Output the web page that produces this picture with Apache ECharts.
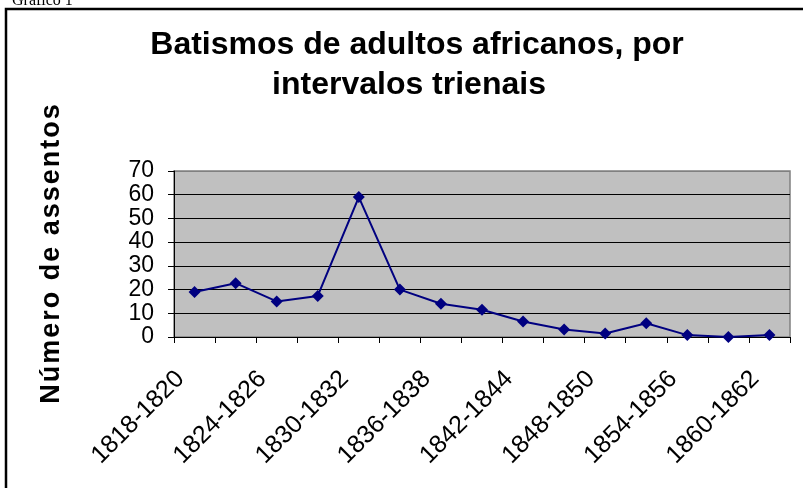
<!DOCTYPE html>
<html>
<head>
<meta charset="utf-8">
<script src="https://cdn.jsdelivr.net/npm/echarts@6/dist/echarts.min.js"></script>
<style>
  html, body { margin: 0; padding: 0; background: #fff; }
  #chart { width: 803px; height: 488px; }
</style>
</head>
<body>
<div id="chart"></div>
<script>
// three-year intervals
const periods = [
  '1818-1820', '1821-1823', '1824-1826', '1827-1829', '1830-1832',
  '1833-1835', '1836-1838', '1839-1841', '1842-1844', '1845-1847',
  '1848-1850', '1851-1853', '1854-1856', '1857-1859', '1860-1862'
];
const baptisms = [19, 22.7, 15, 17.3, 59, 20, 14, 11.5, 6.5, 3.2, 1.5, 5.8, 0.8, 0, 0.8];
const yTicks = [0, 70, 10]; // min, max, step
const yName = 'Número de assentos';

// the original spreads the letters of the axis title a little
const spacedName = Array.from(yName).map(c => '{s|' + c + '}').join('');

const chart = echarts.init(document.getElementById('chart'));

const titleFont = {
  fontFamily: 'Arial, "Liberation Sans"',
  fontSize: 32,
  fontWeight: 'bold',
  color: '#000',
  lineHeight: 40
};

const option = {
  animation: false,
  backgroundColor: '#fff',
  title: {
    text: '{a|Batismos de adultos africanos, por}\n{b|intervalos trienais}',
    left: 412,
    top: 20,
    textAlign: 'center',
    textStyle: Object.assign({}, titleFont, {
      rich: {
        a: Object.assign({}, titleFont),
        // second line sits slightly left of the first in the original
        b: Object.assign({}, titleFont, { padding: [0, 16, 0, 0] })
      }
    })
  },
  graphic: [
    {
      type: 'rect',
      shape: { x: 6, y: 9, width: 830, height: 520 },
      style: { fill: 'none', stroke: '#000', lineWidth: 2.5 },
      z: 100
    },
    {
      type: 'text',
      left: 12,
      top: -7,
      style: {
        text: 'Gráfico 1',
        font: '16px "Liberation Serif", "Times New Roman", serif',
        fill: '#000'
      }
    }
  ],
  grid: {
    left: 174,
    top: 171,
    right: 13,
    bottom: 151,
    show: true,
    backgroundColor: '#c0c0c0',
    borderColor: '#808080',
    borderWidth: 1.5
  },
  xAxis: {
    type: 'category',
    data: periods,
    boundaryGap: true,
    axisLine: { lineStyle: { color: '#000', width: 1 } },
    axisTick: { show: true, interval: 0, length: 6, lineStyle: { color: '#000' } },
    axisLabel: {
      interval: 1,
      rotate: 45,
      margin: 24,
      padding: [0, 20, 0, 0],
      color: '#000',
      fontFamily: 'Arial, "Liberation Sans"',
      fontSize: 25
    }
  },
  yAxis: {
    type: 'value',
    min: yTicks[0],
    max: yTicks[1],
    interval: yTicks[2],
    name: spacedName,
    nameLocation: 'middle',
    nameRotate: 90,
    nameGap: 109,
    nameTextStyle: {
      fontFamily: 'Arial, "Liberation Sans"',
      fontSize: 27,
      fontWeight: 'bold',
      color: '#000',
      rich: {
        s: {
          fontFamily: 'Arial, "Liberation Sans"',
          fontSize: 27,
          fontWeight: 'bold',
          color: '#000',
          padding: [0, 1, 0, 1]
        }
      }
    },
    axisLine: { show: true, lineStyle: { color: '#000', width: 1 } },
    axisTick: { show: true, length: 6, lineStyle: { color: '#000' } },
    axisLabel: {
      margin: 20,
      color: '#000',
      fontFamily: 'Arial, "Liberation Sans"',
      fontSize: 23,
      lineHeight: 23
    },
    splitLine: {
      show: true,
      lineStyle: {
        color: ['#000', '#000', '#000', '#000', '#000', '#000', '#000', '#808080'],
        width: 1
      }
    }
  },
  series: [
    {
      name: 'Batismos',
      type: 'line',
      data: baptisms,
      symbol: 'diamond',
      symbolSize: 12,
      itemStyle: { color: '#000080' },
      lineStyle: { color: '#000080', width: 2 }
    }
  ]
};

chart.setOption(option);
</script>
</body>
</html>
